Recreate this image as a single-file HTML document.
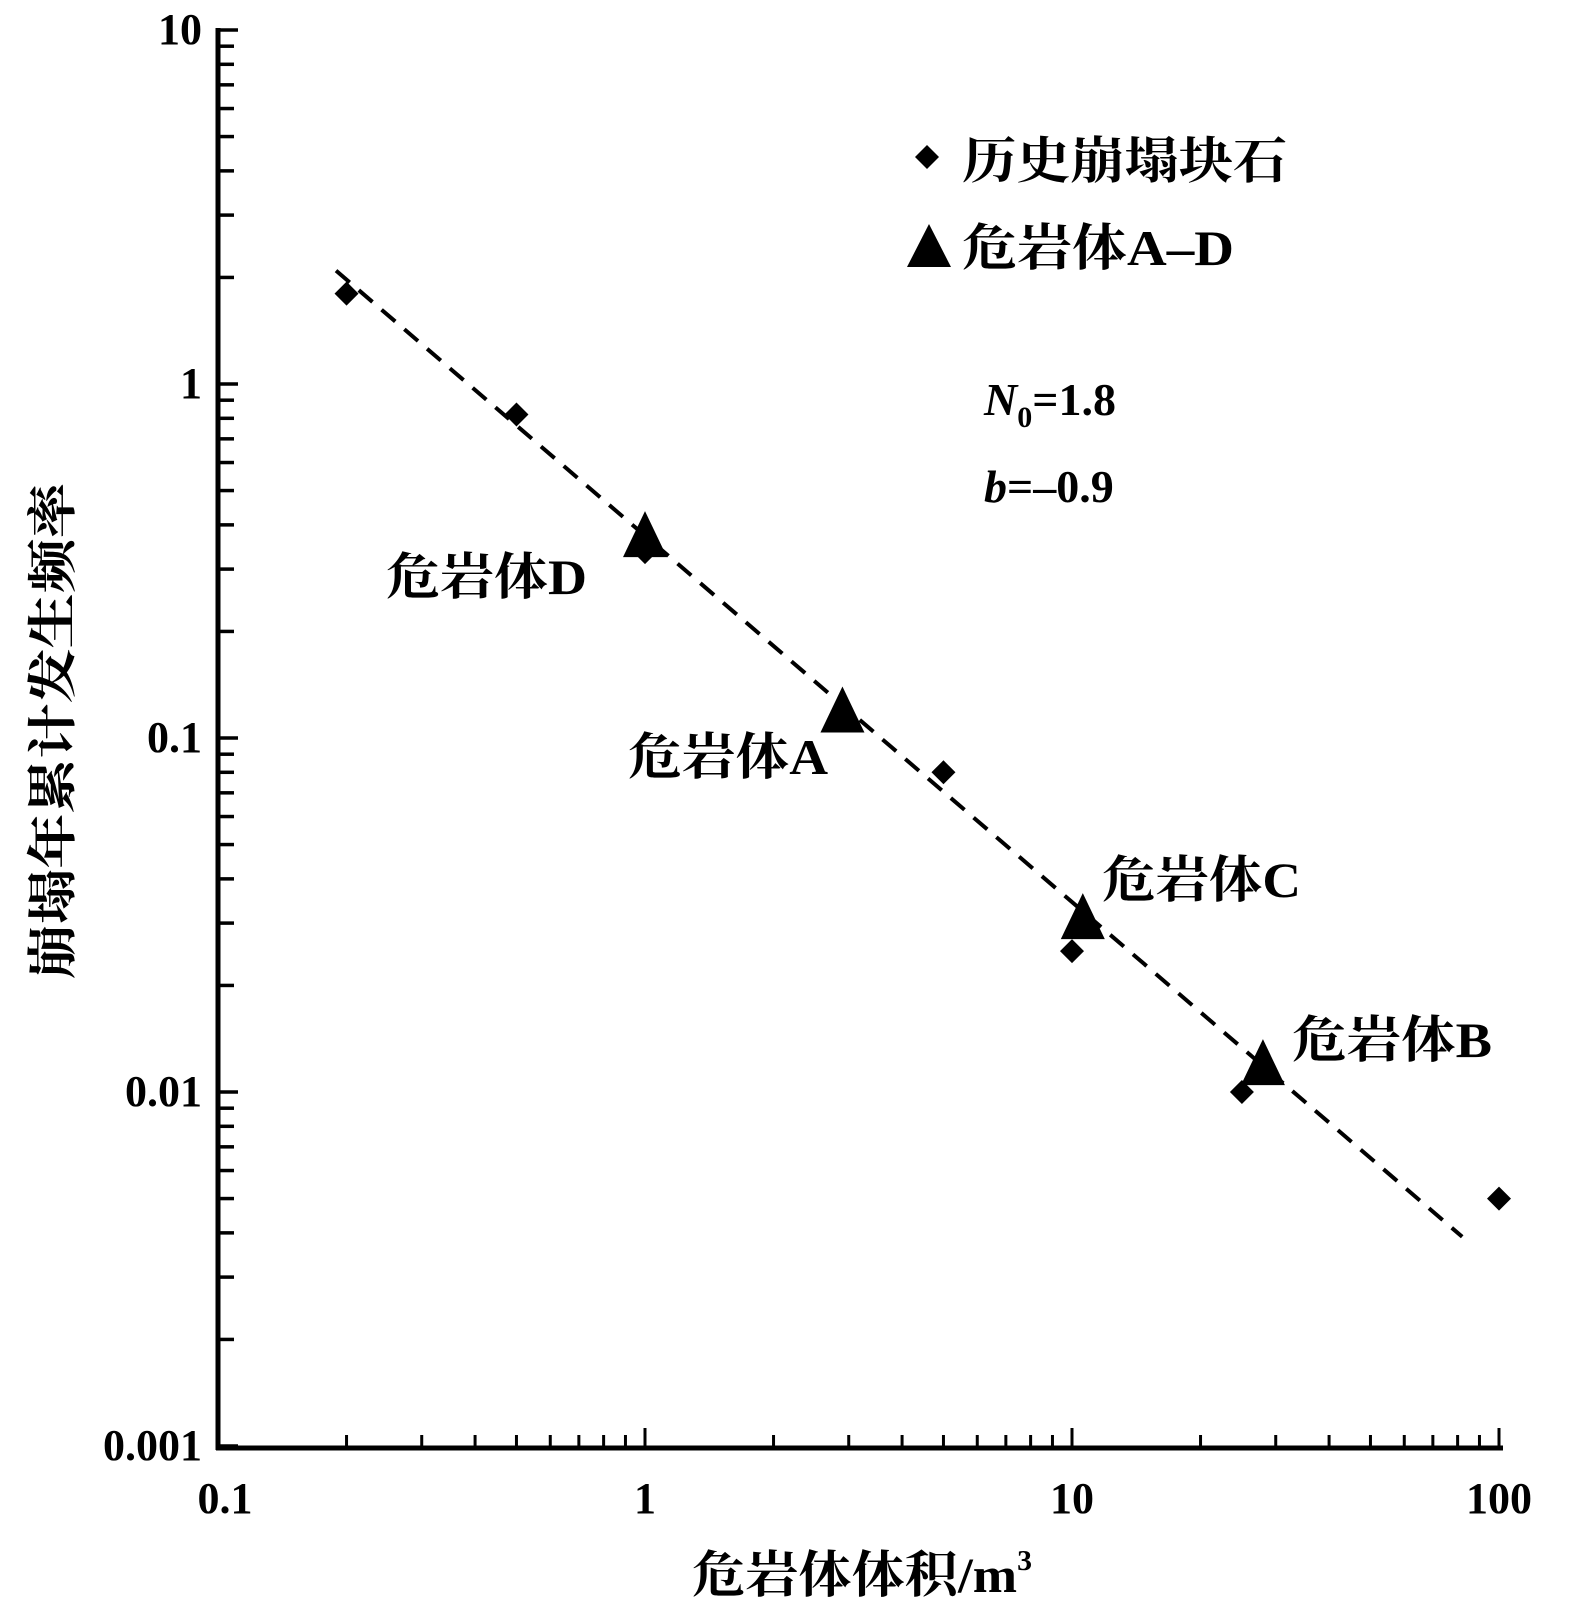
<!DOCTYPE html>
<html><head><meta charset="utf-8"><style>
html,body{margin:0;padding:0;background:#fff;}
svg{display:block;}
text{font-family:"Liberation Serif","Noto Serif CJK SC",serif;font-weight:bold;fill:#000;}
</style></head><body>
<svg id="chart" width="1570" height="1605" viewBox="0 0 1570 1605" xmlns="http://www.w3.org/2000/svg">
<g id="axes"></g>
<g id="marks"></g>
<g>
  <path d="M927 145 L939 157 L927 169 L915 157 Z" fill="#000"/>
  <text x="962" y="178" font-size="50" textLength="325" lengthAdjust="spacingAndGlyphs">历史崩塌块石</text>
  <path d="M929 224 L951 267 L907 267 Z" fill="#000"/>
  <text x="962" y="265" font-size="50" textLength="272" lengthAdjust="spacingAndGlyphs">危岩体A–D</text>
</g>
<text x="984" y="415" font-size="46"><tspan font-style="italic">N</tspan><tspan font-size="30" dy="12">0</tspan><tspan dy="-12">=1.8</tspan></text>
<text x="984" y="502" font-size="46"><tspan font-style="italic">b</tspan>=–0.9</text>
<text x="386" y="594" font-size="50" textLength="201" lengthAdjust="spacingAndGlyphs">危岩体D</text>
<text x="628" y="774" font-size="50" textLength="200" lengthAdjust="spacingAndGlyphs">危岩体A</text>
<text x="1102" y="897" font-size="50" textLength="199" lengthAdjust="spacingAndGlyphs">危岩体C</text>
<text x="1292" y="1057" font-size="50" textLength="200" lengthAdjust="spacingAndGlyphs">危岩体B</text>
<text x="692" y="1592" font-size="50" textLength="340" lengthAdjust="spacingAndGlyphs">危岩体体积/m<tspan font-size="28" dy="-22">3</tspan></text>
<text transform="translate(70,731) rotate(-90)" x="0" y="0" text-anchor="middle" font-size="50" textLength="496" lengthAdjust="spacingAndGlyphs">崩塌年累计发生频率</text>
</svg>
<script>
const histX=[0.2,0.5,1.0,5,10,25,100];
const histY=[1.8,0.82,0.335,0.08,0.025,0.01,0.005];
const rockNames=['D','A','C','B'];
const rockX=[1.0,2.9,10.6,28];
const rockY=[0.36,0.115,0.030,0.0116];
const fitX=[0.189,82];
const fitY=[2.09,0.0039];
const xTicks=[0.1,1,10,100];
const xTickLabels=['0.1','1','10','100'];
const yTicks=[0.001,0.01,0.1,1,10];
const yTickLabels=['0.001','0.01','0.1','1','10'];
const NS='http://www.w3.org/2000/svg';
const X0=218,XD=427,Y0=30,YD=354,XA=1448;
function sx(v){return X0+XD*Math.log10(v/0.1);}
function sy(v){return Y0+YD*(1-Math.log10(v));}
function mk(tag,attrs,parent){const e=document.createElementNS(NS,tag);for(const k in attrs)e.setAttribute(k,attrs[k]);parent.appendChild(e);return e;}
const axes=document.getElementById('axes');
const marks=document.getElementById('marks');
let e;
e=mk('line',{x1:X0,y1:Y0-2,x2:X0,y2:XA+2,stroke:'#000','stroke-width':5},axes);


e=mk('line',{x1:X0-2,y1:XA,x2:1503,y2:XA,stroke:'#000','stroke-width':5},axes);


for(let d=0;d<3;d++){for(let m=1;m<=10;m++){const v=0.1*Math.pow(10,d)*m;if(m===1&&d>0)continue;const x=sx(v);const len=(m===1||m===10)?20:13;
e=mk('line',{x1:x,y1:XA,x2:x,y2:XA-len,stroke:'#000','stroke-width':3},axes);

}}
for(let d=0;d<4;d++){for(let m=1;m<=10;m++){const v=0.001*Math.pow(10,d)*m;if(m===1&&d>0)continue;const y=sy(v);const len=(m===1||m===10)?20:16;
e=mk('line',{x1:X0,y1:y,x2:X0+len,y2:y,stroke:'#000','stroke-width':3.5},axes);

}}
xTicks.forEach((v,i)=>{e=mk('text',{x:sx(v)+(i===0?7:0),y:1513,'text-anchor':'middle','font-size':44},axes);e.textContent=xTickLabels[i];

});
yTicks.forEach((v,i)=>{e=mk('text',{x:202,y:sy(v)+14,'text-anchor':'end','font-size':44},axes);e.textContent=yTickLabels[i];

});
e=mk('line',{x1:sx(fitX[0]),y1:sy(fitY[0]),x2:sx(fitX[1]),y2:sy(fitY[1]),stroke:'#000','stroke-width':4,'stroke-dasharray':'18 12'},marks);


histX.forEach((v,i)=>{const x=sx(v),y=sy(histY[i]);
e=mk('path',{d:`M${x} ${y-12}L${x+12} ${y}L${x} ${y+12}L${x-12} ${y}Z`,fill:'#000'},marks);

});
rockX.forEach((v,i)=>{const x=sx(v),y=sy(rockY[i]);
e=mk('path',{d:`M${x} ${y-30}L${x+22} ${y+16}L${x-22} ${y+16}Z`,fill:'#000'},marks);

});
</script>
</body></html>
